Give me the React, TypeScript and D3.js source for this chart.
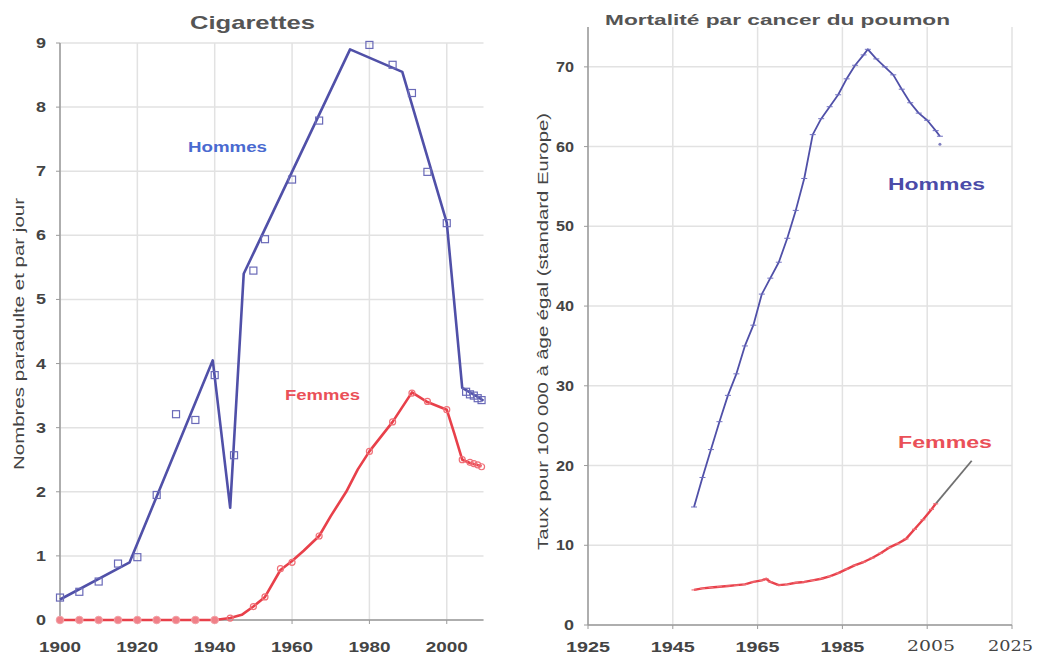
import React from "react";
import * as d3 from "d3";

// ---------- Left chart: Cigarettes ----------
const cigXTicks = [1900, 1920, 1940, 1960, 1980, 2000];
const cigYTicks = [0, 1, 2, 3, 4, 5, 6, 7, 8, 9];

const cigHommesLineYears = [1900, 1918, 1939.5, 1944, 1947.5, 1975, 1988.5, 2000, 2004, 2006, 2008, 2009.5];
const cigHommesLineValues = [0.32, 0.9, 4.05, 1.75, 5.4, 8.9, 8.55, 6.2, 3.62, 3.55, 3.48, 3.42];

const cigHommesPtYears = [1900, 1905, 1910, 1915, 1920, 1925, 1930, 1935, 1940, 1945, 1950, 1953, 1960, 1967, 1980, 1986, 1991, 1995, 2000, 2005, 2006, 2007, 2008, 2009];
const cigHommesPtValues = [0.35, 0.44, 0.6, 0.88, 0.98, 1.95, 3.21, 3.12, 3.82, 2.57, 5.45, 5.94, 6.87, 7.79, 8.97, 8.66, 8.22, 6.99, 6.19, 3.56, 3.52, 3.5, 3.46, 3.43];

const cigFemmesLineYears = [1900, 1940, 1944, 1947, 1950, 1953, 1957, 1960, 1963, 1967, 1970, 1974, 1977, 1980, 1986, 1991, 1995, 2000, 2002, 2004, 2006, 2009];
const cigFemmesLineValues = [0, 0, 0.03, 0.08, 0.21, 0.36, 0.78, 0.92, 1.08, 1.31, 1.62, 2.0, 2.35, 2.63, 3.09, 3.55, 3.4, 3.28, 2.9, 2.5, 2.45, 2.4];

const cigFemmesZeroYears = [1900, 1905, 1910, 1915, 1920, 1925, 1930, 1935, 1940];
const cigFemmesPtYears = [1944, 1950, 1953, 1957, 1960, 1967, 1980, 1986, 1991, 1995, 2000, 2004, 2006, 2007, 2008, 2009];
const cigFemmesPtValues = [0.03, 0.21, 0.36, 0.8, 0.9, 1.31, 2.63, 3.09, 3.54, 3.41, 3.28, 2.5, 2.46, 2.44, 2.42, 2.39];

// ---------- Right chart: Mortalité ----------
const mortXTicks = [1925, 1945, 1965, 1985, 2005, 2025];
const mortYTicks = [0, 10, 20, 30, 40, 50, 60, 70];

const mortHommesYears = [1950, 1952, 1954, 1956, 1958, 1960, 1962, 1964, 1966, 1968, 1970, 1972, 1974, 1976, 1978, 1980, 1982, 1984, 1986, 1988, 1990, 1991, 1993, 1995, 1997, 1999, 2001, 2003, 2005, 2007, 2008];
const mortHommesValues = [14.8, 18.5, 22, 25.5, 28.8, 31.5, 35, 37.6, 41.5, 43.5, 45.5, 48.5, 52, 56, 61.5, 63.5, 65, 66.5, 68.5, 70.2, 71.5, 72.2, 71, 70, 69, 67.2, 65.5, 64.2, 63.3, 62, 61.3];
const mortHommesExtraYear = [2008];
const mortHommesExtraValue = [60.3];

const mortFemmesYears = [1950, 1952, 1954, 1956, 1958, 1960, 1962, 1964, 1966, 1967, 1968, 1970, 1972, 1974, 1976, 1978, 1980, 1982, 1984, 1986, 1988, 1990, 1992, 1994, 1996, 1998, 2000, 2002, 2004, 2006, 2007];
const mortFemmesValues = [4.4, 4.6, 4.7, 4.8, 4.9, 5.0, 5.1, 5.4, 5.6, 5.8, 5.4, 5.0, 5.1, 5.3, 5.4, 5.6, 5.8, 6.1, 6.5, 7.0, 7.5, 7.9, 8.4, 9.0, 9.7, 10.2, 10.8, 12.0, 13.2, 14.5, 15.2];
const mortProjYears = [2007, 2015.5];
const mortProjValues = [15.2, 20.6];

const BLUE = "#5050a8";
const RED = "#e8404a";
const GRID = "#e2e2e2";
const AXIS = "#9a9a9a";
const TXT = "#444";
const FONT = "'Liberation Sans', Arial, sans-serif";

type Pt = [number, number];
const zip = (a: number[], b: number[]): Pt[] => a.map((v, i) => [v, b[i]]);

export default function App() {
  const lx = d3.scaleLinear().domain([1900, 2009.5]).range([60, 483.5]);
  const ly = d3.scaleLinear().domain([0, 9]).range([620, 43]);
  const rx = d3.scaleLinear().domain([1925, 2025]).range([588, 1012]);
  const ry = d3.scaleLinear().domain([0, 75]).range([625, 27]);

  const lLine = d3.line<Pt>().x((d) => lx(d[0])).y((d) => ly(d[1]));
  const rLine = d3.line<Pt>().x((d) => rx(d[0])).y((d) => ry(d[1]));

  const hommesL = zip(cigHommesLineYears, cigHommesLineValues);
  const femmesL = zip(cigFemmesLineYears, cigFemmesLineValues);
  const hommesR = zip(mortHommesYears, mortHommesValues);
  const femmesR = zip(mortFemmesYears, mortFemmesValues);
  const projR = zip(mortProjYears, mortProjValues);

  const stretch = { lengthAdjust: "spacingAndGlyphs" as const };

  return (
    <svg width={1045} height={657} style={{ position: "absolute", left: 0, top: 0, background: "#fff" }} fontFamily={FONT}>
      <rect x={0} y={0} width={1045} height={657} fill="#fff" />
      {/* ===== LEFT CHART ===== */}
      <g>
        {cigYTicks.map((t) => (
          <line key={"lgy" + t} x1={lx(1900)} x2={lx(2009.5)} y1={ly(t)} y2={ly(t)} stroke={GRID} strokeWidth={1.5} />
        ))}
        {cigXTicks.map((t) => (
          <line key={"lgx" + t} x1={lx(t)} x2={lx(t)} y1={ly(0)} y2={ly(9)} stroke={GRID} strokeWidth={1.5} />
        ))}
        <line x1={lx(1900)} x2={lx(1900)} y1={ly(0)} y2={ly(9)} stroke={AXIS} strokeWidth={1.5} />
        <line x1={lx(1900)} x2={lx(2009.5)} y1={ly(0)} y2={ly(0)} stroke={AXIS} strokeWidth={1.5} />
        {cigYTicks.map((t) => (
          <g key={"lty" + t}>
            <line x1={lx(1900) - 4} x2={lx(1900)} y1={ly(t)} y2={ly(t)} stroke={AXIS} />
            <text x={lx(1900) - 14} y={ly(t) + 5} fontSize={14} fill={TXT} textAnchor="end" fontWeight="bold" textLength={10} {...stretch}>{t}</text>
          </g>
        ))}
        {cigXTicks.map((t) => (
          <g key={"ltx" + t}>
            <line x1={lx(t)} x2={lx(t)} y1={ly(0)} y2={ly(0) + 4} stroke={AXIS} />
            <text x={lx(t) - 21} y={652} fontSize={14} fill={TXT} fontWeight="bold" textLength={42} {...stretch}>{t}</text>
          </g>
        ))}
        <text x={190} y={29} fontSize={19} fontWeight="bold" fill="#555" textLength={125} {...stretch}>Cigarettes</text>
        <text transform="translate(24,470) rotate(-90)" fontSize={14} fill={TXT} textLength={272} {...stretch}>Nombres paradulte et par jour</text>

        {/* Femmes */}
        <path d={lLine(femmesL) ?? ""} fill="none" stroke={RED} strokeWidth={2.6} strokeLinejoin="round" />
        {cigFemmesZeroYears.map((y) => (
          <circle key={"fz" + y} cx={lx(y)} cy={ly(0)} r={3.8} fill="#f08088" stroke="#f3a0a5" strokeWidth={1} />
        ))}
        {cigFemmesPtYears.map((y, i) => (
          <circle key={"fp" + y} cx={lx(y)} cy={ly(cigFemmesPtValues[i])} r={3} fill="none" stroke="#f07078" strokeWidth={1.2} />
        ))}
        {/* Hommes */}
        <path d={lLine(hommesL) ?? ""} fill="none" stroke={BLUE} strokeWidth={2.6} strokeLinejoin="round" />
        {cigHommesPtYears.map((y, i) => (
          <rect key={"hp" + y} x={lx(y) - 3.5} y={ly(cigHommesPtValues[i]) - 3.5} width={7} height={7} fill="none" stroke="#6a6ab8" strokeWidth={1.2} />
        ))}
        <text x={188} y={152} fontSize={14} fill="#4a6ad0" fontWeight="bold" textLength={79} {...stretch}>Hommes</text>
        <text x={285} y={400} fontSize={14} fill="#ea5058" fontWeight="bold" textLength={75} {...stretch}>Femmes</text>
      </g>

      {/* ===== RIGHT CHART ===== */}
      <g>
        {mortYTicks.map((t) => (
          <line key={"rgy" + t} x1={rx(1925)} x2={rx(2025)} y1={ry(t)} y2={ry(t)} stroke={GRID} strokeWidth={1.5} />
        ))}
        {mortXTicks.map((t) => (
          <line key={"rgx" + t} x1={rx(t)} x2={rx(t)} y1={ry(0)} y2={ry(75)} stroke={GRID} strokeWidth={1.5} />
        ))}
        <line x1={rx(1925)} x2={rx(1925)} y1={ry(0)} y2={ry(75)} stroke={AXIS} strokeWidth={1.5} />
        <line x1={rx(1925)} x2={rx(2025)} y1={ry(0)} y2={ry(0)} stroke={AXIS} strokeWidth={1.5} />
        {mortYTicks.map((t) => (
          <g key={"rty" + t}>
            <line x1={rx(1925) - 4} x2={rx(1925)} y1={ry(t)} y2={ry(t)} stroke={AXIS} />
            <text x={rx(1925) - 14} y={ry(t) + 5} fontSize={14} fill={TXT} textAnchor="end" fontWeight="bold"
              textLength={t === 0 ? 10 : 18} {...stretch}>{t}</text>
          </g>
        ))}
        {mortXTicks.map((t) => (
          <g key={"rtx" + t}>
            <line x1={rx(t)} x2={rx(t)} y1={ry(0)} y2={ry(0) + 4} stroke={AXIS} />
            {t >= 2005 ? (
              <text x={t === 2005 ? 907 : 988} y={651} fontSize={15} fill={TXT} fontFamily="'DejaVu Serif', serif"
                textLength={t === 2005 ? 48 : 45} {...stretch}>{t}</text>
            ) : (
              <text x={rx(t) - 22} y={652} fontSize={14} fill={TXT} fontWeight="bold" textLength={44} {...stretch}>{t}</text>
            )}
          </g>
        ))}
        <text x={605} y={25} fontSize={15} fontWeight="bold" fill="#555" textLength={345} {...stretch}>Mortalité par cancer du poumon</text>
        <text transform="translate(548,550) rotate(-90)" fontSize={14} fill={TXT} textLength={437} {...stretch}>Taux pour 100 000 à âge égal (standard Europe)</text>

        {/* Femmes */}
        <path d={rLine(projR) ?? ""} fill="none" stroke="#707070" strokeWidth={1.8} />
        <path d={rLine(femmesR) ?? ""} fill="none" stroke={RED} strokeWidth={2.4} strokeLinejoin="round" />
        {mortFemmesYears.map((y, i) => (
          <line key={"mf" + y} x1={rx(y) - 2.5} x2={rx(y) + 2.5} y1={ry(mortFemmesValues[i])} y2={ry(mortFemmesValues[i])} stroke="#f07078" strokeWidth={1.2} />
        ))}
        {/* Hommes */}
        <path d={rLine(hommesR) ?? ""} fill="none" stroke={BLUE} strokeWidth={1.8} strokeLinejoin="round" />
        {mortHommesYears.map((y, i) => (
          <line key={"mh" + y} x1={rx(y) - 3} x2={rx(y) + 3} y1={ry(mortHommesValues[i])} y2={ry(mortHommesValues[i])} stroke="#7070c0" strokeWidth={1} />
        ))}
        {mortHommesExtraYear.map((y, i) => (
          <circle key={"mhx" + y} cx={rx(y)} cy={ry(mortHommesExtraValue[i])} r={1.5} fill="#8080c0" />
        ))}
        <text x={888} y={190} fontSize={17} fill="#4b4ba8" fontWeight="bold" textLength={97} {...stretch}>Hommes</text>
        <text x={898} y={448} fontSize={16} fill="#ea5058" fontWeight="bold" textLength={94} {...stretch}>Femmes</text>
      </g>
    </svg>
  );
}
